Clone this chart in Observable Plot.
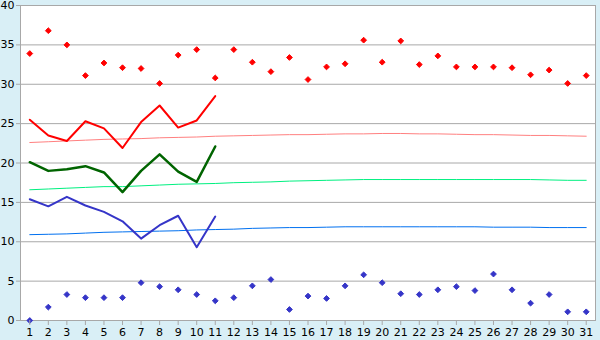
<!DOCTYPE html>
<html><head><meta charset="utf-8">
<script src="https://cdn.jsdelivr.net/npm/d3@7"></script>
<script src="https://cdn.jsdelivr.net/npm/@observablehq/plot@0.6"></script>
<style>
html,body{margin:0;padding:0;background:#d9eff6;}
</style></head><body>
<div id="chart"></div>
<script>
const days = d3.range(1, 32);
const maxPoints = [33.9,36.8,35.0,31.1,32.7,32.1,32.0,30.1,33.7,34.4,30.8,34.4,32.8,31.6,33.4,30.6,32.2,32.6,35.6,32.8,35.5,32.5,33.6,32.2,32.2,32.2,32.1,31.2,31.8,30.1,31.1];
const minPoints = [0.0,1.7,3.3,2.9,2.9,2.9,4.8,4.3,3.9,3.3,2.5,2.9,4.4,5.2,1.4,3.1,2.8,4.4,5.8,4.8,3.4,3.3,3.9,4.3,3.8,5.9,3.9,2.2,3.3,1.1,1.1];
const maxLine = [25.5,23.5,22.8,25.3,24.4,21.9,25.2,27.3,24.5,25.4,28.5];
const meanLine = [20.1,19.0,19.2,19.6,18.8,16.3,19.0,21.1,18.9,17.6,22.1];
const minLine = [15.4,14.5,15.7,14.6,13.8,12.6,10.4,12.1,13.3,9.3,13.2];
const maxNormal = [22.6,22.7,22.8,22.9,23.0,23.05,23.1,23.2,23.25,23.3,23.4,23.45,23.5,23.55,23.6,23.6,23.65,23.7,23.7,23.75,23.75,23.7,23.7,23.65,23.6,23.6,23.55,23.5,23.5,23.45,23.4];
const meanNormal = [16.6,16.7,16.8,16.9,17.0,17.0,17.1,17.2,17.3,17.35,17.4,17.5,17.55,17.6,17.7,17.75,17.8,17.85,17.9,17.9,17.9,17.9,17.9,17.9,17.9,17.9,17.9,17.9,17.85,17.8,17.8];
const minNormal = [10.9,10.95,11.0,11.1,11.2,11.25,11.3,11.35,11.4,11.5,11.55,11.6,11.7,11.75,11.8,11.8,11.85,11.9,11.9,11.9,11.9,11.9,11.9,11.9,11.9,11.85,11.85,11.85,11.8,11.8,11.8];
const yTicks = [0,5,10,15,20,25,30,35,40];

const pts = (arr) => arr.map((v, i) => ({day: i + 1, v}));

const chart = Plot.plot({
  width: 600, height: 340,
  marginLeft: 20, marginRight: 5, marginTop: 5, marginBottom: 20,
  style: {fontFamily: "DejaVu Sans, Verdana, sans-serif", fontSize: "11px", background: "#d9eff6", color: "#000", overflow: "visible"},
  x: {domain: [0.5, 31.5], label: null},
  y: {domain: [0, 40], label: null},
  marks: [
    Plot.frame({fill: "white", stroke: null}),
    Plot.ruleY(yTicks, {stroke: "#a8a8a8", strokeWidth: 1}),
    Plot.frame({stroke: "#a8a8a8", strokeWidth: 1}),
    Plot.line(pts(maxNormal), {x: "day", y: "v", stroke: "#ff8080", strokeWidth: 1}),
    Plot.line(pts(meanNormal), {x: "day", y: "v", stroke: "#00f080", strokeWidth: 1}),
    Plot.line(pts(minNormal), {x: "day", y: "v", stroke: "#0070f0", strokeWidth: 1}),
    Plot.line(pts(maxLine), {x: "day", y: "v", stroke: "#ff0000", strokeWidth: 2}),
    Plot.line(pts(meanLine), {x: "day", y: "v", stroke: "#006400", strokeWidth: 2.5}),
    Plot.line(pts(minLine), {x: "day", y: "v", stroke: "#3535c8", strokeWidth: 2}),
    Plot.dot(pts(maxPoints), {x: "day", y: "v", symbol: "diamond2", r: 2.6, fill: "#ff0000", stroke: "#ff0000", strokeWidth: 1}),
    Plot.dot(pts(minPoints), {x: "day", y: "v", symbol: "diamond2", r: 2.6, fill: "#3535c8", stroke: "#3535c8", strokeWidth: 1}),
    Plot.axisX({ticks: days, tickFormat: d => d, tickSize: 5, tickPadding: 3, stroke: "#a8a8a8", color: "#000", label: null}),
    Plot.axisY({ticks: yTicks, tickSize: 4, tickPadding: 2, stroke: "#a8a8a8", color: "#000", label: null})
  ]
});
document.getElementById("chart").appendChild(chart);
</script>
</body></html>
